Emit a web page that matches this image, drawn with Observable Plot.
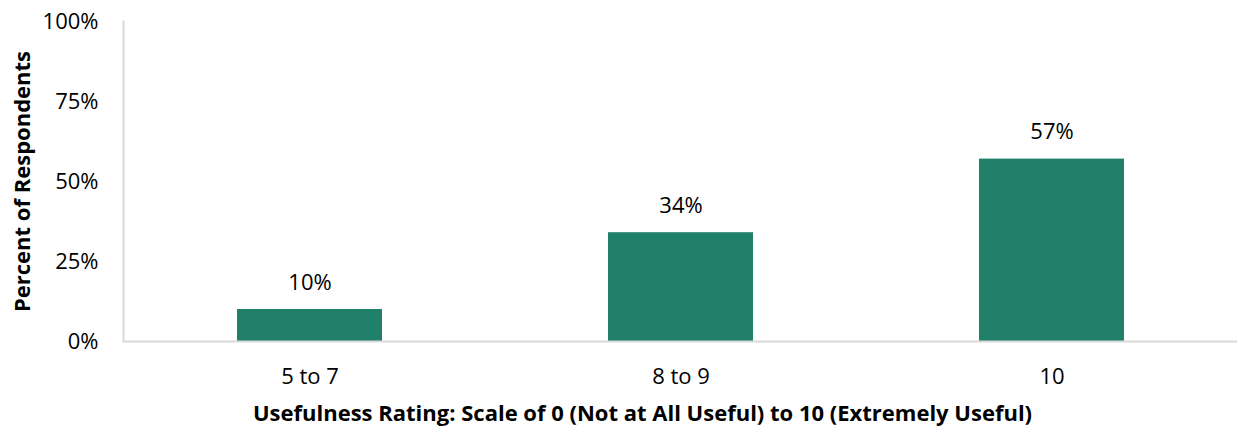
<!DOCTYPE html>
<html>
<head>
<meta charset="utf-8">
<script src="https://cdn.jsdelivr.net/npm/d3@7"></script>
<script src="https://cdn.jsdelivr.net/npm/@observablehq/plot@0.6"></script>
<style>
  html, body { margin: 0; padding: 0; background: #fff; }
  #chart svg { display: block; }
</style>
</head>
<body>
<div id="chart"></div>
<script>
// Share of respondents by usefulness rating group
const ratings = ["5 to 7", "8 to 9", "10"];
const percents = [10, 34, 57];
const yTicks = [0, 25, 50, 75, 100];

const data = ratings.map((r, i) => ({rating: r, pct: percents[i]}));

const font = "'Open Sans', Lato, sans-serif";
const green = "#20806a";
const axisGray = "#d9d9d9";

const chart = Plot.plot({
  width: 1238,
  height: 435,
  marginLeft: 123,
  marginRight: 1,
  marginTop: 21,
  marginBottom: 94,
  style: {fontFamily: font, fontSize: "22px", color: "#000", background: "#fff"},
  x: {domain: ratings, paddingInner: 0.61, paddingOuter: 0.305, label: null},
  y: {domain: [0, 100], label: null},
  marks: [
    Plot.barY(data, {x: "rating", y: "pct", fill: green}),
    // axis lines: left spine and baseline
    Plot.frame({anchor: "left", stroke: axisGray, strokeWidth: 2}),
    Plot.ruleY([0], {stroke: axisGray, strokeWidth: 2}),
    Plot.axisY(yTicks, {
      tickSize: 0, tickPadding: 25, tickFormat: d => d + "%",
      fontSize: 22, fill: "#000", label: null
    }),
    Plot.axisX({
      tickSize: 0, tickPadding: 27, fontSize: 22, fill: "#000", label: null
    }),
    // value labels
    Plot.text(data, {
      x: "rating", y: "pct", text: d => d.pct + "%",
      dy: -27, fontSize: 22, fill: "#000"
    }),
    // axis titles
    Plot.text(["Percent of Respondents"], {
      frameAnchor: "left", textAnchor: "middle", dx: -101, rotate: -90,
      fontSize: 22, fontWeight: "bold", fill: "#000"
    }),
    Plot.text(["Usefulness Rating: Scale of 0 (Not at All Useful) to 10 (Extremely Useful)"], {
      frameAnchor: "bottom", dx: -38, dy: 79,
      fontSize: 22, fontWeight: "bold", fill: "#000"
    })
  ]
});

document.getElementById("chart").appendChild(chart);
</script>
</body>
</html>
